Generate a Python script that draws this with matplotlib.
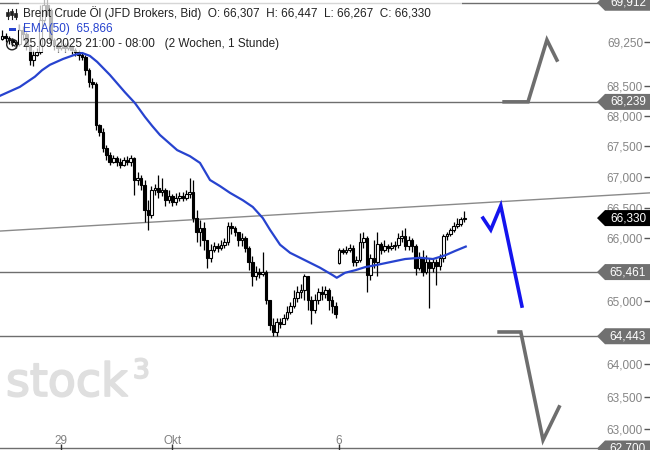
import numpy as np
import matplotlib
matplotlib.use("Agg")
import matplotlib.pyplot as plt
import matplotlib.transforms as mtransforms
import matplotlib.patheffects as pe
from matplotlib.patches import Polygon, Rectangle, Circle
from matplotlib.lines import Line2D
from matplotlib.ticker import NullLocator

plt.rcParams['font.family'] = ['Liberation Sans', 'DejaVu Sans']

# ---------------- data ----------------
# time axis: trading days relative to Mon 29 Sep 00:00
t_start = -1.06
t_step = 1 / 16
first_open = 69.30
gap_index = 97          # first candle of Monday 6 Oct (weekend gap)
gap_open = 65.61

close = [
    69.35, 69.31, 69.28, 69.25, 69.21, 69.45, 69.38, 69.19, 68.94, 69.03,
    69.08, 69.62, 69.87, 69.79, 69.28, 69.19, 69.14, 69.19, 69.14, 69.18,
    69.11, 69.08, 69.03, 68.99, 68.77, 68.57, 68.54, 67.85, 67.74, 67.48,
    67.36, 67.25, 67.31, 67.25, 67.20, 67.28, 67.25, 67.31, 66.95, 66.98,
    66.87, 66.46, 66.38, 66.79, 66.82, 66.75, 66.79, 66.62, 66.69, 66.59,
    66.66, 66.69, 66.66, 66.72, 66.75, 66.33, 66.11, 66.17, 65.98, 65.69,
    65.82, 65.88, 65.85, 65.90, 65.94, 66.20, 66.17, 66.11, 65.98, 66.01,
    65.85, 65.62, 65.40, 65.46, 65.43, 65.46, 65.02, 64.62, 64.51, 64.67,
    64.64, 64.73, 64.83, 64.92, 65.05, 65.14, 65.18, 65.40, 65.02, 64.86,
    65.02, 65.14, 65.11, 65.18, 65.02, 64.92, 64.79, 65.82, 65.78, 65.82,
    65.85, 65.62, 65.65, 65.94, 66.01, 65.41, 65.69, 65.62, 65.91, 65.82,
    65.88, 65.85, 65.88, 65.90, 66.01, 66.04, 65.88, 65.98, 65.88, 65.53,
    65.69, 65.46, 65.62, 65.53, 65.62, 65.56, 65.69, 66.04, 66.07, 66.14,
    66.20, 66.23, 66.31, 66.33]

high = [
    69.45, 69.40, 69.35, 69.31, 69.28, 69.55, 69.52, 69.41, 69.19, 69.11,
    69.14, 69.87, 70.05, 69.99, 69.82, 69.31, 69.25, 69.28, 69.23, 69.25,
    69.19, 69.14, 69.11, 69.08, 69.03, 68.81, 68.64, 68.57, 67.87, 67.80,
    67.52, 67.41, 67.36, 67.34, 67.31, 67.33, 67.34, 67.36, 67.33, 67.08,
    67.03, 66.95, 66.62, 66.85, 66.88, 67.03, 66.98, 66.82, 66.79, 66.72,
    66.74, 66.75, 66.75, 66.79, 66.98, 66.95, 66.46, 66.30, 66.27, 65.98,
    65.91, 65.94, 65.93, 65.98, 66.01, 66.27, 66.27, 66.20, 66.11, 66.09,
    66.04, 65.88, 65.72, 65.56, 65.53, 65.78, 65.49, 65.02, 64.73, 64.73,
    64.73, 64.79, 64.92, 64.98, 65.18, 65.24, 65.27, 65.43, 65.40, 65.08,
    65.11, 65.21, 65.24, 65.24, 65.21, 65.08, 64.98, 65.85, 65.85, 65.88,
    65.91, 65.90, 65.72, 66.09, 66.11, 66.04, 65.75, 65.98, 66.11, 65.94,
    65.98, 65.91, 65.94, 65.96, 66.09, 66.14, 66.17, 66.04, 66.01, 65.91,
    65.78, 65.82, 65.73, 65.69, 65.69, 65.67, 65.75, 66.07, 66.11, 66.17,
    66.27, 66.33, 66.34, 66.45]

low = [
    69.28, 69.25, 69.21, 69.18, 69.14, 69.18, 69.28, 69.11, 68.86, 68.84,
    69.01, 69.04, 69.53, 69.70, 69.19, 69.11, 69.08, 69.11, 69.08, 69.11,
    69.04, 69.01, 68.94, 68.94, 68.69, 68.49, 68.47, 67.77, 67.67, 67.41,
    67.28, 67.20, 67.23, 67.18, 67.15, 67.18, 67.20, 67.18, 66.71, 66.87,
    66.79, 66.27, 66.14, 66.33, 66.71, 66.66, 66.69, 66.53, 66.58, 66.53,
    66.54, 66.61, 66.61, 66.62, 66.66, 66.27, 65.94, 65.88, 65.82, 65.53,
    65.62, 65.78, 65.78, 65.82, 65.85, 65.90, 66.07, 66.04, 65.88, 65.88,
    65.78, 65.49, 65.24, 65.33, 65.37, 65.40, 64.95, 64.54, 64.45, 64.45,
    64.57, 64.64, 64.70, 64.79, 64.89, 64.98, 65.05, 65.02, 64.86, 64.64,
    64.81, 64.95, 65.02, 65.05, 64.86, 64.81, 64.73, 65.59, 65.75, 65.75,
    65.78, 65.56, 65.56, 65.62, 65.85, 65.14, 65.33, 65.53, 65.40, 65.75,
    65.78, 65.78, 65.82, 65.82, 65.85, 65.94, 65.82, 65.82, 65.78, 65.41,
    65.50, 65.40, 65.43, 64.89, 65.46, 65.26, 65.49, 65.62, 65.98, 66.04,
    66.11, 66.17, 66.20, 66.27]

ema_t = [-1.10, -0.74, -0.47, -0.34, -0.20, 0.04, 0.25, 0.38, 0.52, 0.65,
         0.88, 1.15, 1.33, 1.51, 1.64, 1.78, 2.09, 2.32, 2.50, 2.68,
         2.86, 3.04, 3.27, 3.45, 3.63, 3.76, 3.94, 4.12, 4.30, 4.66,
         4.89, 4.96, 5.11, 5.29, 5.47, 5.65, 5.92, 6.19, 6.46, 6.69,
         6.91, 7.09, 7.28]
ema_v = [68.34, 68.49, 68.66, 68.77, 68.86, 68.96, 69.03, 69.06, 69.01, 68.91,
         68.69, 68.40, 68.22, 67.99, 67.84, 67.69, 67.44, 67.34, 67.23, 66.95,
         66.85, 66.74, 66.62, 66.51, 66.33, 66.14, 65.90, 65.77, 65.69, 65.53,
         65.41, 65.37, 65.45, 65.49, 65.54, 65.57, 65.62, 65.67, 65.69, 65.67,
         65.73, 65.80, 65.87]

levels = [69.912, 68.239, 65.461, 64.443, 62.700]
level_labels = ['69,912', '68,239', '65,461', '64,443', '62,700']
last_price = 66.330
last_label = '66,330'

trend_t = [-1.10, 10.60]
trend_v = [66.12, 66.74]

up_t = [7.97, 8.40, 8.74, 8.92]
up_v = [68.24, 68.24, 69.28, 68.94]
down_t = [7.88, 8.27, 8.67, 8.96]
down_v = [64.51, 64.51, 62.83, 63.34]
blue_t = [7.59, 7.73, 7.91, 8.29]
blue_v = [66.33, 66.14, 66.53, 64.92]

ytick_vals = [69.25, 68.5, 68.0, 67.5, 67.0, 66.5, 66.0, 65.0, 64.0, 63.5, 63.0]
ytick_labels = ['69,250', '68,500', '68,000', '67,500', '67,000', '66,500',
                '66,000', '65,000', '64,000', '63,500', '63,000']
xtick_vals = [0, 2, 5]
xtick_labels = ['29', 'Okt', '6']

legend_title = 'Brent Crude Öl (JFD Brokers, Bid)  O: 66,307  H: 66,447  L: 66,267  C: 66,330'
legend_ema = 'EMA(50)  65,866'
legend_time = '25.09.2025 21:00 - 08:00   (2 Wochen, 1 Stunde)'

# ---------------- figure ----------------
W, H = 650, 450
fig = plt.figure(figsize=(W / 100, H / 100), dpi=100, facecolor='white')
ax = fig.add_axes([0, 0, 1, 1])
ax.set_facecolor('white')
ax.set_yscale('log')
ax.set_xlim(-1.097, 10.594)
ax.set_ylim(62.677, 69.959)
for s in ax.spines.values():
    s.set_visible(False)

img = mtransforms.Affine2D().scale(1, -1).translate(0, H)  # image pixel coords

line_grey = '#6e6e6e'
# horizontal levels
for lv in levels:
    ax.axhline(lv, xmin=0, xmax=0.92, color=line_grey, lw=1.0, zorder=1)
# trend line
ax.plot(trend_t, trend_v, color='#8a8a8a', lw=1.0, zorder=1)

# candles
close_a = np.array(close)
opens = np.array([first_open] + close[:-1])
opens[gap_index] = gap_open
high_a = np.maximum.reduce([np.array(high), opens, close_a])
low_a = np.minimum.reduce([np.array(low), opens, close_a])
tt = t_start + np.arange(len(close)) * t_step
ax.vlines(tt, low_a, high_a, color='black', lw=0.9, zorder=3)
bottom = np.minimum(opens, close_a)
height = np.maximum(np.abs(close_a - opens), 0.006)
fcol = ['white' if c >= o else 'black' for o, c in zip(opens, close_a)]
ax.bar(tt, height, bottom=bottom, width=0.047, color=fcol, edgecolor='black',
       linewidth=0.8, zorder=4)

# EMA
ema_col = '#2743cf'
ax.plot(ema_t, ema_v, color=ema_col, lw=1.6, zorder=5)

# drawn scenario arrows
ax.plot(up_t, up_v, color='#6e6e6e', lw=2.6, zorder=5, solid_joinstyle='miter')
ax.plot(down_t, down_v, color='#6e6e6e', lw=2.6, zorder=5, solid_joinstyle='miter')
ax.plot(blue_t, blue_v, color='#1414ee', lw=2.6, zorder=5, solid_joinstyle='miter')

# y ticks (inside, right)
ax.set_yticks(ytick_vals, ytick_labels)
ax.yaxis.set_minor_locator(NullLocator())
ax.tick_params(axis='y', which='major', left=False, right=True, labelleft=False,
               labelright=True, direction='in', length=4, width=1, pad=-5,
               color='#555555', labelcolor='#858585', labelsize=8.5)
for tk in ax.yaxis.get_major_ticks():
    tk.label2.set_horizontalalignment('right')

# x ticks (inside, bottom)
ax.set_xticks(xtick_vals, xtick_labels)
ax.xaxis.set_minor_locator(NullLocator())
ax.tick_params(axis='x', which='major', direction='in', length=4, width=1, pad=-11,
               color='#333333', labelcolor='#808080', labelsize=8.5)

# price boxes
ident = mtransforms.IdentityTransform()


def price_box(val, txt, fc):
    y = ax.transData.transform((0, val))[1]
    xt, xb, xr, h = 597, 605, 651, 8
    verts = [(xt, y), (xb, y + h), (xr, y + h), (xr, y - h), (xb, y - h)]
    ax.add_patch(Polygon(verts, closed=True, transform=ident, facecolor=fc,
                         edgecolor='none', zorder=8, clip_on=False))
    ax.text(628, y, txt, transform=ident, color='white', fontsize=8.5,
            ha='center', va='center', zorder=9, clip_on=False)


for lv, lb in zip(levels, level_labels):
    price_box(lv, lb, '#707070')
price_box(last_price, last_label, '#000000')

# legend block (semi transparent background); rects given in image pixels
for (x0, y0, x1, y1) in [(19, 0, 462, 21), (19, 21, 118, 37), (19, 37, 286, 52)]:
    ax.add_patch(Rectangle((x0, y0), x1 - x0, y1 - y0, transform=img,
                           facecolor='white', edgecolor='none', alpha=0.72,
                           zorder=10, clip_on=False))
ax.text(23, 13.5, legend_title, transform=img, fontsize=8.5, color='#222222',
        ha='left', va='center', zorder=11)
ax.text(23, 29, legend_ema, transform=img, fontsize=8.5, color=ema_col,
        ha='left', va='center', zorder=11)
ax.text(23, 44.5, legend_time, transform=img, fontsize=8.5, color='#222222',
        ha='left', va='center', zorder=11)
# icons
for cx, (b0, b1) in zip([7.5, 11.5, 15.5], [(12, 16), (11, 15), (13, 17)]):
    ax.add_line(Line2D([cx, cx], [9, 19], transform=img, color='#222222', lw=0.8, zorder=11))
    ax.add_patch(Rectangle((cx - 1.3, b0), 2.6, b1 - b0, transform=img,
                           facecolor='#222222', edgecolor='#222222', lw=0.5, zorder=11))
ax.add_patch(Rectangle((8.5, 27.5), 7.5, 3, transform=img, facecolor=ema_col,
                       edgecolor='none', zorder=11))
ax.add_patch(Circle((12, 44.5), 5.3, transform=img, facecolor='none',
                    edgecolor='#222222', lw=1.0, zorder=11))
ax.add_line(Line2D([12, 12, 15], [41, 44.5, 46], transform=img, color='#222222',
                   lw=1.0, zorder=11))

# watermark
wm_col = '#dfdfdf'
ax.text(6, 396, 'stock', transform=img, fontsize=33, color=wm_col,
        family='DejaVu Sans', ha='left', va='baseline', zorder=0.5,
        path_effects=[pe.withStroke(linewidth=1.3, foreground=wm_col)])
ax.text(133, 378, '3', transform=img, fontsize=19, color=wm_col,
        family='DejaVu Sans', ha='left', va='baseline', zorder=0.5,
        path_effects=[pe.withStroke(linewidth=1.3, foreground=wm_col)])

fig.savefig('out.png', dpi=100, facecolor='white')
